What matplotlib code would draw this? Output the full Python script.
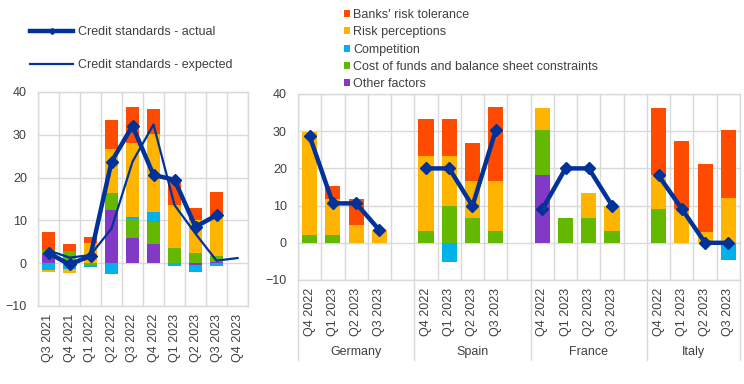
import numpy as np
import matplotlib
matplotlib.use("Agg")
import matplotlib.pyplot as plt
from matplotlib.lines import Line2D
from matplotlib.patches import Patch
import matplotlib.transforms as mtransforms

plt.rcParams['font.family'] = ['Liberation Sans', 'DejaVu Sans']
plt.rcParams['font.size'] = 9

nan = np.nan
# ---------------- Left panel: euro area ----------------
ea_quarters = ['Q3 2021', 'Q4 2021', 'Q1 2022', 'Q2 2022', 'Q3 2022',
               'Q4 2022', 'Q1 2023', 'Q2 2023', 'Q3 2023', 'Q4 2023']
ea_other = [2.1, 0.6, 0.0, 12.5, 6.0, 4.5, 0.0, -0.4, 0.3, nan]
ea_cost = [1.1, 2.3, -0.4, 4.0, 4.4, 5.2, 3.6, 2.4, 1.3, nan]
ea_comp = [-1.6, -1.4, -0.5, -2.6, 0.4, 2.2, -0.7, -1.7, -0.6, nan]
ea_risk = [-0.4, -1.0, 4.7, 10.1, 17.2, 18.4, 10.1, 7.6, 9.2, nan]
ea_tol = [4.1, 1.7, 1.5, 6.9, 8.4, 5.7, 5.9, 2.9, 5.8, nan]
ea_actual = [2.4, -0.3, 1.7, 23.7, 32.1, 20.6, 19.5, 8.5, 11.2, nan]
ea_expected = [3.0, 1.3, 1.9, 8.1, 23.7, 32.4, 13.6, 6.9, 0.6, 1.2]

# ---------------- Right panel: countries ----------------
countries = ['Germany', 'Spain', 'France', 'Italy']
cty_quarters = ['Q4 2022', 'Q1 2023', 'Q2 2023', 'Q3 2023']
# order: Germany, Spain, France, Italy (4 quarters each)
c_tol = [0.0, 3.6, 7.0, 0.0,   9.9, 9.9, 10.2, 20.0,   0.0, 0.0, 0.0, 0.0,   18.1, 18.2, 18.1, 18.3]
c_risk = [27.7, 9.6, 4.8, 3.4,  20.2, 13.4, 9.9, 13.4,  6.1, 0.0, 6.7, 6.8,   9.2, 9.1, 3.0, 12.1]
c_comp = [0.0, 0.0, 0.0, 0.0,  0.0, -5.1, 0.0, 0.0,    0.0, 0.0, 0.0, 0.0,   0.0, 0.0, 0.0, -4.5]
c_cost = [2.2, 2.2, 0.0, 0.0,  3.2, 10.0, 6.7, 3.2,    12.1, 6.6, 6.6, 3.2,  9.0, 0.0, 0.0, 0.0]
c_other = [0.0, 0.0, 0.0, 0.0, 0.0, 0.0, 0.0, 0.0,     18.1, 0.0, 0.0, 0.0,  0.0, 0.0, 0.0, 0.0]
c_actual = [28.7, 10.6, 10.6, 3.4,  20.0, 20.0, 9.9, 30.2,  9.0, 20.0, 20.0, 10.0,  18.1, 9.1, 0.0, 0.0]

factor_names = ["Banks' risk tolerance", 'Risk perceptions', 'Competition',
                'Cost of funds and balance sheet constraints', 'Other factors']
colors = {'tol': '#FF4B00', 'risk': '#FFB400', 'comp': '#00B1EA',
          'cost': '#65B800', 'other': '#8139C6'}
line_col = '#003299'
grid_col = '#D9D9D9'
text_col = '#404040'

W, H = 744, 384
fig = plt.figure(figsize=(W / 100, H / 100), dpi=100)


def px_axes(left, top, right, bottom):
    return fig.add_axes([left / W, 1 - bottom / H, (right - left) / W, (bottom - top) / H])


def stack(ax, x, series, width):
    pos = np.zeros(len(x))
    neg = np.zeros(len(x))
    for key, vals in series:
        v = np.nan_to_num(np.asarray(vals, dtype=float))
        b = np.where(v >= 0, pos, neg)
        ax.bar(x, v, width, bottom=b, color=colors[key], edgecolor='none', zorder=2)
        pos = pos + np.where(v >= 0, v, 0)
        neg = neg + np.where(v < 0, v, 0)


def style(ax, n):
    ax.set_ylim(-10, 40)
    ax.set_yticks([-10, 0, 10, 20, 30, 40])
    ax.set_xlim(-0.5, n - 0.5)
    for s in ax.spines.values():
        s.set_color(grid_col)
        s.set_linewidth(1.0)
    ax.yaxis.grid(True, color=grid_col, linewidth=1.0, zorder=0)
    for b in np.arange(-0.5, n, 1.0):
        ax.axvline(b, color=grid_col, linewidth=1.0, zorder=0)
    ax.set_axisbelow(True)
    ax.tick_params(axis='both', length=0, colors=text_col, labelsize=9)
    ax.tick_params(axis='y', pad=8)
    ax.tick_params(axis='x', pad=5.5)


# ---- left
axL = px_axes(38, 92, 248, 306)
xL = np.arange(len(ea_quarters))
stack(axL, xL, [('other', ea_other), ('cost', ea_cost), ('comp', ea_comp),
                ('risk', ea_risk), ('tol', ea_tol)], 0.65)
axL.plot(xL, ea_expected, color=line_col, lw=1.6, zorder=3)
axL.plot(xL, ea_actual, color=line_col, lw=3.2, marker='D', ms=6, zorder=4)
style(axL, len(ea_quarters))
axL.set_xticks(xL)
axL.set_xticklabels(ea_quarters, rotation=90)

# ---- right
axR = px_axes(298, 94, 740, 280)
slot = []
for g in range(len(countries)):
    for i in range(len(cty_quarters)):
        slot.append(g * 5 + i)
slot = np.array(slot)
nR = 19
stack(axR, slot, [('other', c_other), ('cost', c_cost), ('comp', c_comp),
                  ('risk', c_risk), ('tol', c_tol)], 0.65)
for g in range(len(countries)):
    sl = slice(g * 4, g * 4 + 4)
    axR.plot(slot[sl], c_actual[sl], color=line_col, lw=3.2, marker='D', ms=6, zorder=4)
style(axR, nR)
axR.set_xticks(slot)
axR.set_xticklabels(cty_quarters * len(countries), rotation=90)

trans = mtransforms.blended_transform_factory(axR.transData, axR.transAxes)
depth = (360 - 280) / (280 - 94)
for b in [-0.5, 4.5, 9.5, 14.5, 18.5]:
    axR.plot([b, b], [0, -depth], transform=trans, color=grid_col, lw=1.0, clip_on=False)
group_centres = [2, 7, 12, 16.5]
for name, xc in zip(countries, group_centres):
    axR.text(xc, -(352 - 280) / (280 - 94), name, transform=trans, ha='center', va='center',
             color=text_col, fontsize=9)

# ---- legends
h_act = Line2D([], [], color=line_col, lw=3.2, marker='D', ms=3)
h_exp = Line2D([], [], color=line_col, lw=1.6)
legL = fig.legend([h_act, h_exp], ['Credit standards - actual', 'Credit standards - expected'],
                  loc='upper left', bbox_to_anchor=(30 / W, 1 - 26 / H), frameon=False,
                  handlelength=3.45, handletextpad=0.4, labelspacing=1.7, fontsize=9,
                  labelcolor=text_col, borderaxespad=0, borderpad=0)
keys = ['tol', 'risk', 'comp', 'cost', 'other']
handles = [Patch(facecolor=colors[k], edgecolor='none') for k in keys]
legR = fig.legend(handles, factor_names, loc='upper left',
                  bbox_to_anchor=(344 / W, 1 - 9 / H), frameon=False,
                  handlelength=0.5, handleheight=0.5, handletextpad=0.25,
                  labelspacing=0.42, fontsize=9, labelcolor=text_col,
                  borderaxespad=0, borderpad=0)

fig.savefig('out.png', dpi=100)
